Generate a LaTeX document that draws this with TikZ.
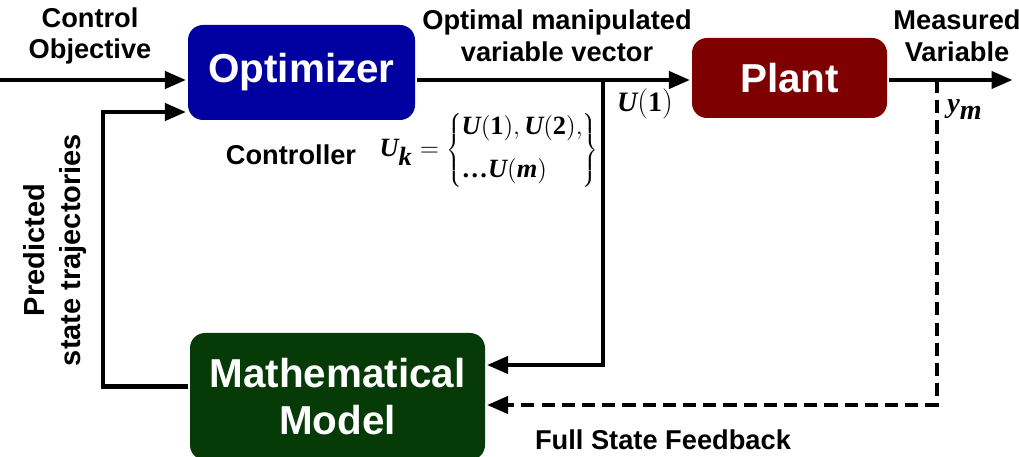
\documentclass[tikz,border=0pt]{standalone}
\usepackage{fontspec}
\setsansfont{Liberation Sans}
\newfontfamily\tnr{Liberation Serif}
\usetikzlibrary{arrows.meta}
\definecolor{ink}{HTML}{000000}
\definecolor{optblue}{HTML}{0000A0}
\definecolor{plantred}{HTML}{7F0000}
\definecolor{modelgreen}{HTML}{063A06}
\newcommand{\bi}[1]{\mbox{\tnr\bfseries\itshape #1}}
\newcommand{\bn}[1]{\mbox{\tnr\bfseries #1}}

\begin{document}
\begin{tikzpicture}[
    line width=2.3pt, >={Triangle[length=4.2mm,width=3.4mm]},
    color=ink,
    block/.style={rounded corners=0.3cm, draw=none, text=white, align=center,
                  font=\sffamily\bfseries\fontsize{23}{27}\selectfont},
    lab/.style={font=\sffamily\bfseries\fontsize{15.5}{18}\selectfont, align=center, text=ink},
    eq/.style={font=\fontsize{16}{18}\selectfont, text=ink}]
  % fixed canvas, same proportions as the reference
  \path[use as bounding box] (0,0) rectangle (20.38,9.12);

  % ================= blocks =================
  \node[block, fill=optblue, minimum width=4.54cm, minimum height=1.9cm] (opt) at (6.03,7.67) {Optimizer};
  \node[block, fill=plantred, minimum width=3.9cm, minimum height=1.6cm] (plant) at (15.79,7.56) {Plant};
  \node[block, fill=modelgreen, minimum width=5.9cm, minimum height=2.54cm] (model) at (6.75,1.19) {Mathematical\\Model};

  % ================= branch points =================
  \coordinate (in) at (0,7.52);
  \coordinate (split) at (12.06,7.52);
  \coordinate (tap) at (18.74,7.52);
  \coordinate (out) at (20.25,7.52);

  % ================= forward path =================
  \draw[->] (in) -- (opt.west |- in);
  \draw[->] (opt.east |- split) -- (plant.west |- split);
  \draw[->] (plant.east |- tap) -- (out);

  % ================= model paths =================
  \draw[->] (split) |- ([yshift=0.63cm]model.east);
  \draw[->, dashed, dash pattern=on 7.5pt off 4pt] (tap) |- ([yshift=-0.17cm]model.east);
  \draw[->] ([yshift=0.2cm]model.west) -- ++(-1.7,0) |- ([yshift=-0.79cm]opt.west);

  % ================= labels =================
  \node[lab] (objective) at (1.80,8.40) {Control\\Objective};
  \node[lab] (vector) at (11.14,8.40) {Optimal manipulated\\variable vector};
  \node[lab] (measured) at (19.14,8.40) {Measured\\Variable};
  \node[lab] (controller) at (5.82,6.02) {Controller};
  \node[lab, rotate=90, font=\sffamily\bfseries\fontsize{16.5}{20.5}\selectfont] (predicted) at (1.10,4.12) {Predicted\\state trajectories};
  \node[lab] (fsf) at (13.26,0.32) {Full State Feedback};
  \node[eq] (u1) at (12.90,7.04) {$\bi{U}\bigl(\bn{1}\bigr)$};
  \node[eq] (ym) at (19.30,6.92) {$\bi{y}_{\bi{m}}$};
  \node[eq, font=\fontsize{15}{17}\selectfont] (uk) at (9.78,6.12)
    {$\bi{U}_{\bi{k}}=\left\{\begin{array}{@{}l@{}}
       \bi{U}\bigl(\bn{1}\bigr),\bi{U}\bigl(\bn{2}\bigr),\\[7pt]
       \bn{\ldots}\bi{U}\bigl(\bi{m}\bigr)\end{array}\right\}$};
\end{tikzpicture}
\end{document}
